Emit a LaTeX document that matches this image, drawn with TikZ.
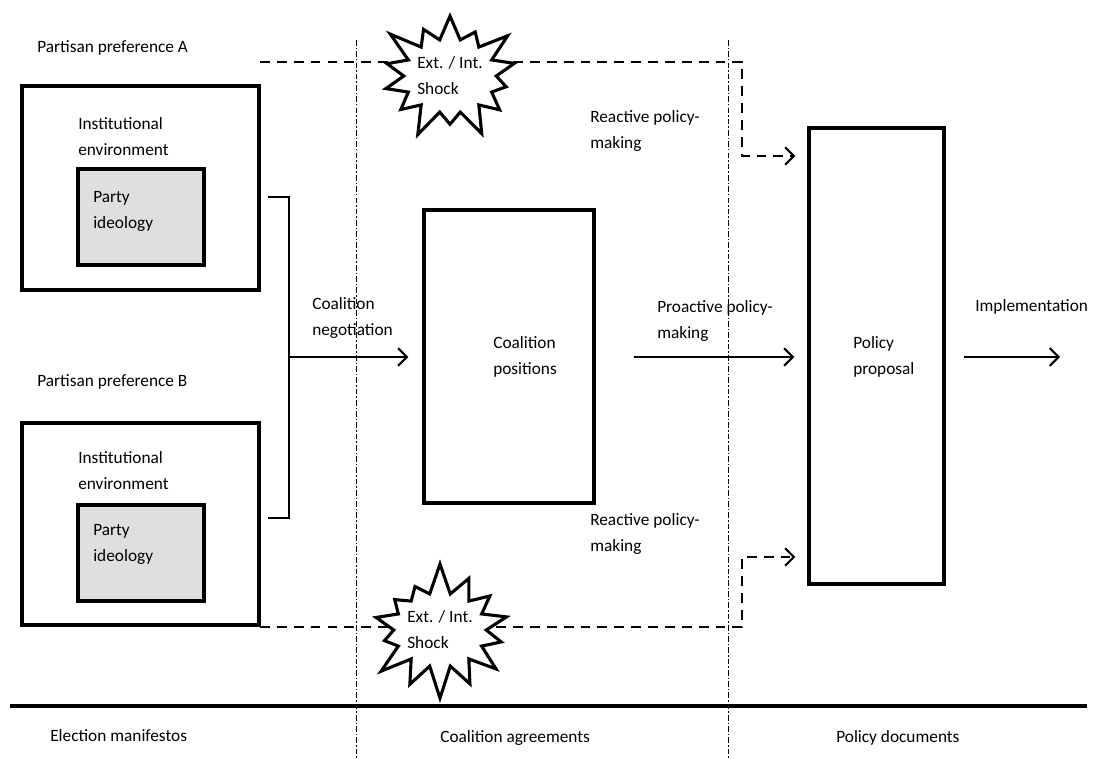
\documentclass[tikz,border=0pt]{standalone}
\usepackage{fontspec}
\setmainfont{Carlito}
\usetikzlibrary{arrows.meta,positioning,calc,shapes.symbols}
\tikzset{
  cadre/.style={rectangle, draw=black, line width=2.3pt, inner sep=0pt},
  noyau/.style={cadre, fill=gray!25},
  lbl/.style={anchor=west, align=left, inner sep=0pt, font=\fontsize{12.3}{18.5}\selectfont},
  fleche/.style={-{Straight Barb[length=2.2mm,width=4.4mm]}, line width=1.5pt},
  reactif/.style={fleche, dash pattern=on 7pt off 5pt},
  pointille/.style={line width=0.6pt, dash pattern=on 4pt off 1.5pt on 1pt off 1.5pt},
  choc/.style={starburst, starburst points=14, starburst point height=0.8cm, draw, line width=2.2pt,
               fill=white, minimum width=3.5cm, minimum height=3.45cm, inner sep=0pt,
               align=left, font=\fontsize{12.3}{18.5}\selectfont},
}

\begin{document}
\begin{tikzpicture}[x=0.025cm, y=-0.025cm]
        \useasboundingbox (0,0) rectangle (1093,758);
        % phase dividers
        \coordinate (d1h) at (356,40); \coordinate (d1b) at (356,758);
        \coordinate (d2h) at (728,40); \coordinate (d2b) at (728,758);
        \draw[pointille] (d1h) -- (d1b);
        \draw[pointille] (d2h) -- (d2b);
        % partisan preferences
        \node[lbl] (prefA) at (37,48) {Partisan preference A};
        \node[cadre, minimum width=5.925cm, minimum height=5.1cm] (boxA) at (140.5,188) {};
        \node[noyau, minimum width=3.15cm, minimum height=2.4cm] (ideoA) at (141,217) {};
        \node[lbl] (instA) at (78,137) {Institutional\\environment};
        \node[lbl] (partA) at (93,211) {Party\\ideology};
        \node[lbl] (prefB) at (37,382) {Partisan preference B};
        \node[cadre, minimum width=5.925cm, minimum height=5.05cm] (boxB) at (140.5,524) {};
        \node[noyau, minimum width=3.15cm, minimum height=2.4cm] (ideoB) at (141,553) {};
        \node[lbl] (instB) at (78,471) {Institutional\\environment};
        \node[lbl] (partB) at (93,544) {Party\\ideology};
        % coalition stage
        \node[cadre, minimum width=4.25cm, minimum height=7.325cm] (coal) at (509,356.5) {};
        \node[lbl] (coalT) at (493,357) {Coalition\\positions};
        \node[cadre, minimum width=3.375cm, minimum height=11.4cm] (prop) at (876.5,356) {};
        \node[lbl] (propT) at (853,357) {Policy\\proposal};
        % bracket and negotiation
        \coordinate (bH) at (268,197); \coordinate (bB) at (268,518);
        \coordinate (bM) at (289,357);
        \draw[line width=1.8pt] (bH) -| (bM) |- (bB);
        \draw[fleche, shorten >=0.35cm] (bM) -- (coal.west |- bM);
        \node[lbl] (nego) at (312,318) {Coalition\\negotiation};
        \draw[fleche, shorten <=0.95cm, shorten >=0.325cm] (coal.east |- bM) -- (prop.west |- bM);
        \node[lbl] (proact) at (657,321) {Proactive policy-\\making};
        \coordinate (fin) at (1060,357);
        \draw[fleche, shorten <=0.45cm] (prop.east |- fin) -- (fin);
        \node[lbl] (impl) at (975,307) {Implementation};
        % reactive policy-making
        \coordinate (rA0) at (260,62); \coordinate (rA1) at (742,62); \coordinate (rA2) at (742,156);
        \draw[reactif, shorten >=0.3cm] (rA0) -- (rA1) -- (rA2) -- (prop.west |- rA2);
        \coordinate (rB0) at (260,627); \coordinate (rB1) at (742,627); \coordinate (rB2) at (742,557);
        \draw[reactif, shorten >=0.3cm] (rB0) -- (rB1) -- (rB2) -- (prop.west |- rB2);
        \node[lbl] (reacA) at (590,131) {Reactive policy-\\making};
        \node[lbl] (reacB) at (590,534) {Reactive policy-\\making};
        \node[choc] (chocA) at (450,76) {Ext. / Int.\\Shock};
        \node[choc, random starburst=7] (chocB) at (440,630) {Ext. / Int.\\Shock};
        % document types
        \coordinate (sG) at (10,706); \coordinate (sD) at (1087,706);
        \draw[line width=2.8pt] (sG) -- (sD);
        \node[lbl] (docA) at (50,736) {Election manifestos};
        \node[lbl] (docB) at (440,738) {Coalition agreements};
        \node[lbl] (docC) at (836,738) {Policy documents};
      \end{tikzpicture}
\end{document}
